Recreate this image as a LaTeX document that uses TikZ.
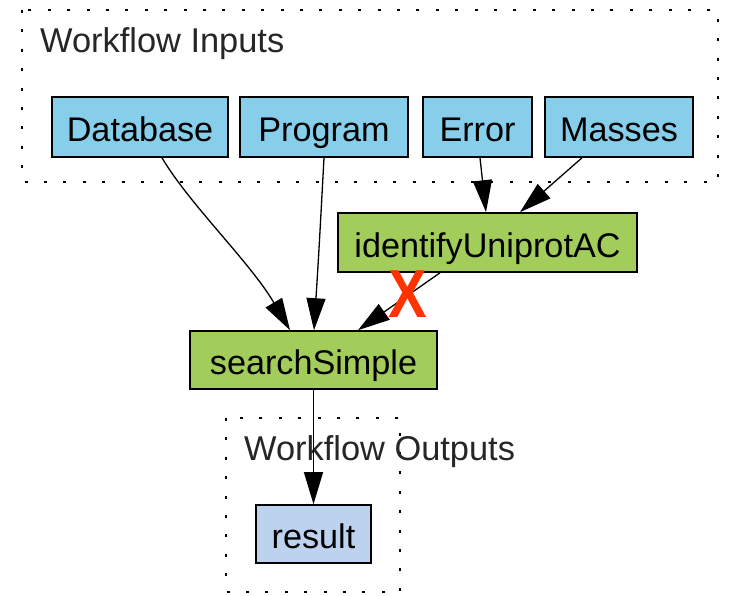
\documentclass[tikz,border=0pt]{standalone}
\usepackage{fontspec}
\setmainfont{Liberation Sans}
\usetikzlibrary{arrows.meta}
\definecolor{inputblue}{HTML}{87CEEB}
\definecolor{procgreen}{HTML}{A2CD5A}
\definecolor{outputblue}{HTML}{BCD2EE}
\definecolor{crossred}{HTML}{FF3300}
\tikzset{
  box/.style={draw, line width=1.6pt, inner sep=0pt, text height=33pt, text depth=4pt, font=\fontsize{34.2}{35}\selectfont},
  inport/.style={box, fill=inputblue, minimum height=60pt},
  proc/.style={box, fill=procgreen, minimum height=59pt},
  outport/.style={box, fill=outputblue, minimum height=58pt},
  cluster/.style={line width=1.6pt, dash pattern=on 3pt off 16.4pt},
  clusterlabel/.style={anchor=base west, inner sep=0pt, font=\fontsize{34.4}{35}\selectfont, text=black!85},
  flow/.style={line width=1.3pt, -{Triangle[length=32pt,width=19pt]}}
}

\begin{document}
\begin{tikzpicture}[x=1pt, y=-1pt]
  \useasboundingbox (0,0) rectangle (729,595);

  %%%%% clusters %%%%%
  \draw[cluster] (22,10) rectangle (718,182);
  \node[clusterlabel] (inlabel) at (40,52) {Workflow Inputs};
  \draw[cluster] (226,418) rectangle (400,592);
  \node[clusterlabel] (outlabel) at (244,460) {Workflow Outputs};

  %%%%% nodes %%%%%
  \node[inport, minimum width=176pt] (database) at (140,127) {Database};
  \node[inport, minimum width=168pt] (program) at (324,127) {Program};
  \node[inport, minimum width=109pt] (error) at (477.5,127) {Error};
  \node[inport, minimum width=148pt] (masses) at (619,127) {Masses};

  \node[proc, minimum width=299pt] (identify) at (487.5,242.5) {identifyUniprotAC};
  \node[proc, minimum width=247pt, minimum height=58pt] (search) at (313.5,360) {searchSimple};
  \node[outport, minimum width=115pt] (result) at (313.5,534) {result};

  %%%%% links %%%%%
  \draw[flow] ([xshift=22pt]database.south) .. controls (190,205) and (250,262) .. ([xshift=-23.5pt]search.north);
  \draw[flow] (program.south) .. controls (319,250) .. ([xshift=0.5pt]search.north);
  \draw[flow] ([xshift=2.5pt]error.south) -- ([xshift=-1.5pt]identify.north);
  \draw[flow] ([xshift=-37pt]masses.south) -- ([xshift=32.5pt]identify.north);
  \draw[flow] ([xshift=-47.5pt]identify.south) -- ([xshift=44.5pt]search.north);
  \draw[flow] (search.south) -- (result.north);

  %%%%% broken link mark %%%%%
  \node[text=crossred, inner sep=0pt, font=\fontsize{68}{68}\bfseries\selectfont] (brokenmark) at (408,294) {\scalebox{0.85}[1]{X}};
\end{tikzpicture}
\end{document}
